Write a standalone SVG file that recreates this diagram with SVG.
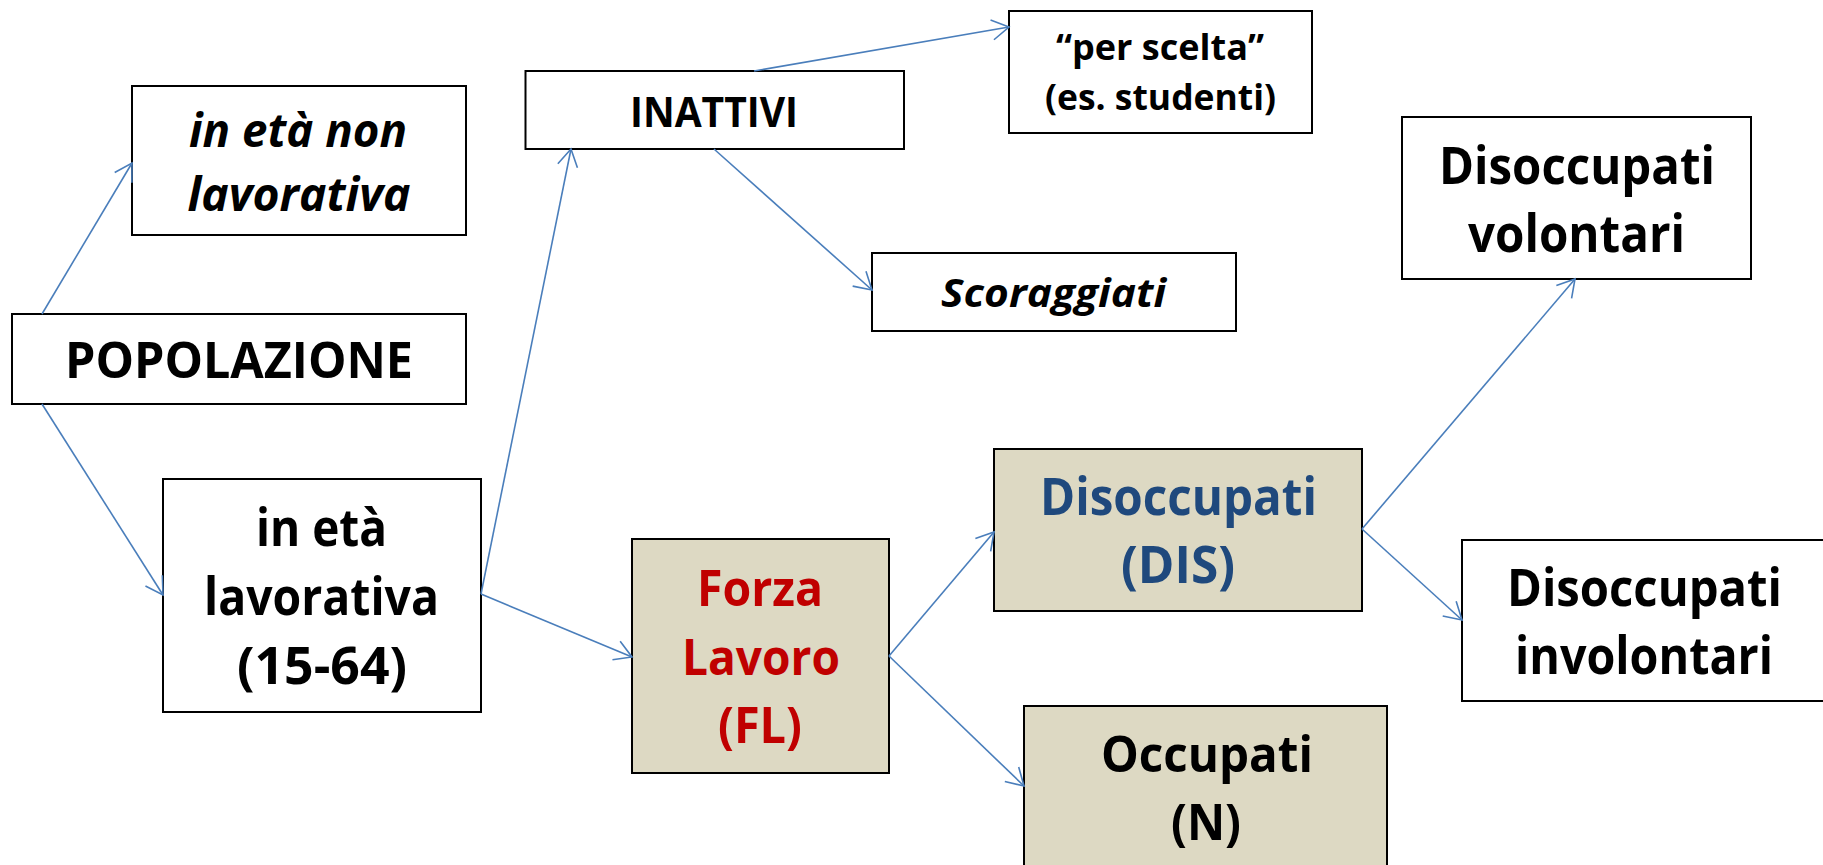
<svg xmlns="http://www.w3.org/2000/svg" width="1823" height="865" viewBox="0 0 1823 865">
<defs>
<style>
.box{fill:#ffffff;stroke:#000000;stroke-width:2}
.tan{fill:#DDD9C3;stroke:#000000;stroke-width:2}
.t{font-family:"Open Sans","Noto Sans","Liberation Sans",sans-serif;font-weight:bold;text-anchor:middle;fill:#000000}
.it{font-style:italic}
.red{fill:#C00000}
.blue{fill:#1F497D}
.conn{stroke:#4A7EBB;stroke-width:1.6;fill:none;marker-end:url(#arr)}
</style>
<marker id="arr" markerUnits="userSpaceOnUse" markerWidth="40" markerHeight="40" viewBox="-20 -20 40 40" refX="0" refY="0" orient="auto" overflow="visible">
<path d="M -17 -10 L 0 0 L -17 10" fill="none" stroke="#4A7EBB" stroke-width="1.6"/>
</marker>
</defs>
<rect width="1823" height="865" fill="#ffffff"/>

<g id="node-non-lavorativa">
<rect class="box" x="132" y="86" width="334" height="149"/>
<text class="t it" x="298" y="147" font-size="46" textLength="218" lengthAdjust="spacingAndGlyphs">in età non</text>
<text class="t it" x="299" y="211" font-size="46" textLength="223" lengthAdjust="spacingAndGlyphs">lavorativa</text>
</g>

<g id="node-popolazione">
<rect class="box" x="12" y="314" width="454" height="90"/>
<text class="t" x="239" y="378" font-size="51" textLength="348" lengthAdjust="spacingAndGlyphs">POPOLAZIONE</text>
</g>

<g id="node-lavorativa">
<rect class="box" x="163" y="479" width="318" height="233"/>
<text class="t" x="321.5" y="546" font-size="52" textLength="131" lengthAdjust="spacingAndGlyphs">in età</text>
<text class="t" x="321.5" y="615" font-size="52" textLength="235" lengthAdjust="spacingAndGlyphs">lavorativa</text>
<text class="t" x="322" y="684" font-size="52" textLength="170" lengthAdjust="spacingAndGlyphs">(15-64)</text>
</g>

<g id="node-inattivi">
<rect class="box" x="525.5" y="71" width="378.5" height="78"/>
<text class="t" x="714" y="127" font-size="42" textLength="168" lengthAdjust="spacingAndGlyphs">INATTIVI</text>
</g>

<g id="node-per-scelta">
<rect class="box" x="1009" y="11" width="303" height="122"/>
<text class="t" x="1160" y="60" font-size="35" textLength="208" lengthAdjust="spacingAndGlyphs">“per scelta”</text>
<text class="t" x="1160.5" y="110" font-size="35" textLength="231" lengthAdjust="spacingAndGlyphs">(es. studenti)</text>
</g>

<g id="node-scoraggiati">
<rect class="box" x="872" y="253" width="364" height="78"/>
<text class="t it" x="1053.5" y="307" font-size="40" textLength="225" lengthAdjust="spacingAndGlyphs">Scoraggiati</text>
</g>

<g id="node-forza-lavoro">
<rect class="tan" x="632" y="539" width="257" height="234"/>
<text class="t red" x="760" y="606" font-size="50" textLength="126" lengthAdjust="spacingAndGlyphs">Forza</text>
<text class="t red" x="761" y="675" font-size="50" textLength="158" lengthAdjust="spacingAndGlyphs">Lavoro</text>
<text class="t red" x="760" y="743" font-size="50" textLength="84" lengthAdjust="spacingAndGlyphs">(FL)</text>
</g>

<g id="node-dis">
<rect class="tan" x="994" y="449" width="368" height="162"/>
<text class="t blue" x="1178.5" y="515" font-size="52" textLength="277" lengthAdjust="spacingAndGlyphs">Disoccupati</text>
<text class="t blue" x="1178" y="583" font-size="52" textLength="114" lengthAdjust="spacingAndGlyphs">(DIS)</text>
</g>

<g id="node-occupati">
<rect class="tan" x="1024" y="706" width="363" height="180"/>
<text class="t" x="1207" y="772" font-size="51" textLength="212" lengthAdjust="spacingAndGlyphs">Occupati</text>
<text class="t" x="1206" y="840" font-size="51" textLength="70" lengthAdjust="spacingAndGlyphs">(N)</text>
</g>

<g id="node-volontari">
<rect class="box" x="1402" y="117" width="349" height="162"/>
<text class="t" x="1577" y="184" font-size="52" textLength="276" lengthAdjust="spacingAndGlyphs">Disoccupati</text>
<text class="t" x="1576.5" y="252" font-size="52" textLength="217" lengthAdjust="spacingAndGlyphs">volontari</text>
</g>

<g id="node-involontari">
<rect class="box" x="1462" y="540" width="380" height="161"/>
<text class="t" x="1644.5" y="606" font-size="52" textLength="275" lengthAdjust="spacingAndGlyphs">Disoccupati</text>
<text class="t" x="1644" y="674" font-size="52" textLength="258" lengthAdjust="spacingAndGlyphs">involontari</text>
</g>

<g id="connectors">
<line class="conn" x1="42" y1="314" x2="132" y2="163"/>
<line class="conn" x1="42" y1="404" x2="163" y2="595"/>
<line class="conn" x1="481" y1="594" x2="571" y2="149"/>
<line class="conn" x1="481" y1="594" x2="632" y2="657"/>
<line class="conn" x1="754" y1="71" x2="1009" y2="27"/>
<line class="conn" x1="714" y1="149" x2="872" y2="290"/>
<line class="conn" x1="889" y1="656" x2="994" y2="532"/>
<line class="conn" x1="889" y1="656" x2="1024" y2="786"/>
<line class="conn" x1="1362" y1="529" x2="1575" y2="279"/>
<line class="conn" x1="1362" y1="529" x2="1462" y2="620"/>
</g>
</svg>
